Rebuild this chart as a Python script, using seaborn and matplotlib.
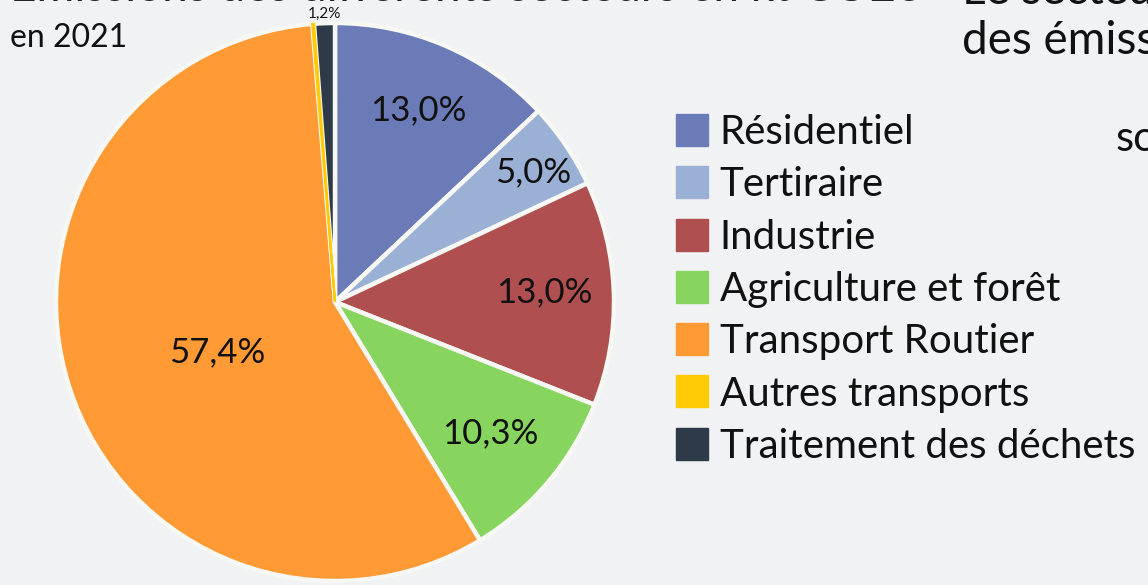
import numpy as np
import pandas as pd
import matplotlib
matplotlib.use("Agg")
import matplotlib.pyplot as plt
from matplotlib.lines import Line2D
import seaborn as sns

# ---- data ----
categories = ["Résidentiel", "Tertiraire", "Industrie", "Agriculture et forêt",
              "Transport Routier", "Autres transports", "Traitement des déchets"]
shares = [13.0, 5.0, 13.0, 10.3, 57.4, 0.1, 1.2]
colors = ["#6a7bb8", "#9bb0d5", "#b04f50", "#87d45f", "#ff9a35", "#ffcb05", "#2e3a47"]
subtitle = "en 2021"
title_fragment = "Émissions des différents secteurs en kt CO2e"

df = pd.DataFrame({"categorie": categories, "part": shares, "couleur": colors})

BG = "#f1f2f4"
sns.set_theme(style="white")
plt.rcParams["font.family"] = ["Lato", "DejaVu Sans"]

W, H = 1148, 585
fig = plt.figure(figsize=(W / 100, H / 100), dpi=100, facecolor=BG)

cx, cy, R = 335, 302, 279
ax = fig.add_axes([(cx - R) / W, (H - cy - R) / H, 2 * R / W, 2 * R / H])
ax.set_facecolor(BG)

wedges, _ = ax.pie(df["part"], colors=df["couleur"], startangle=90, counterclock=False,
                   radius=1.0, wedgeprops=dict(edgecolor="#f7f7f4", linewidth=3.2))
# keep the tiny "Autres transports" sliver visible
wedges[5].set_edgecolor(colors[5])
wedges[5].set_linewidth(1.6)
wedges[5].set_zorder(5)

ax.set_xlim(-1, 1)
ax.set_ylim(-1, 1)
ax.set_aspect("equal")
ax.axis("off")

# value labels (radial distance, angular nudge in degrees, font size)
label_r = [0.75, 0.85, 0.75, 0.73, 0.46, None, 1.035]
label_dang = [0, -1, 1, 0, 5, 0, 0]
label_fs = [25, 25, 25, 25, 25, None, 11]
for w, v, r, da, fs in zip(wedges, df["part"], label_r, label_dang, label_fs):
    if r is None:
        continue
    mid = np.deg2rad((w.theta1 + w.theta2) / 2 + da)
    txt = f"{v:.1f}%".replace(".", ",")
    ax.text(r * np.cos(mid), r * np.sin(mid), txt, ha="center", va="center",
            fontsize=fs, color="#111111", clip_on=False)

# legend
handles = [Line2D([0], [0], marker="s", linestyle="none", markersize=23,
                  markerfacecolor=c, markeredgecolor=c) for c in colors]
leg = fig.legend(handles, categories, loc="upper left",
                 bbox_to_anchor=(676 / W, 1 - 114 / H), frameon=False,
                 fontsize=29, labelspacing=0.38, handlelength=0.8,
                 handletextpad=0.28, borderpad=0, borderaxespad=0)
for t in leg.get_texts():
    t.set_color("#111111")

# texts around (partially cropped, as in the reference)
fig.text(10 / W, 1 - 1 / H, title_fragment, ha="left", va="baseline",
         fontsize=33, color="#222222")
fig.text(10 / W, 1 - 38 / H, subtitle, ha="left", va="center",
         fontsize=23, color="#111111")
fig.text(962 / W, 1 - 4 / H, "Le secteur", ha="left", va="baseline",
         fontsize=33, color="#111111")
fig.text(962 / W, 1 - 54 / H, "des émissions", ha="left", va="baseline",
         fontsize=33, color="#111111")
fig.text(1116 / W, 1 - 151 / H, "sont", ha="left", va="baseline",
         fontsize=30, color="#111111")

fig.savefig("out.png", dpi=100, facecolor=BG)
